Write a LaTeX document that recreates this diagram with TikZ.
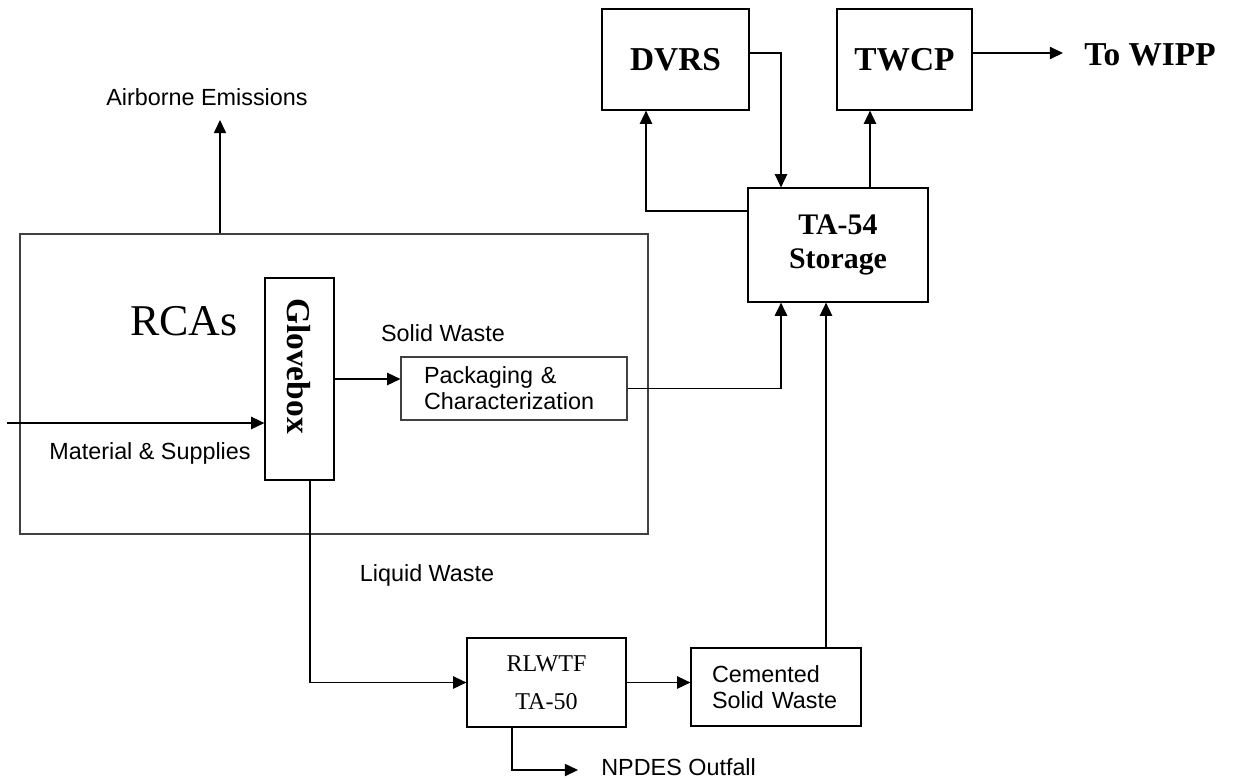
\documentclass[tikz,border=0pt]{standalone}
\usepackage{fontspec}
\setmainfont{Liberation Serif}
\newfontfamily\arialfont{Liberation Sans}
\usetikzlibrary{arrows.meta}
\tikzstyle{box} = [draw, line width=0.7pt, inner sep=0pt, align=center]
\tikzstyle{arrow} = [line width=0.7pt,-{Triangle[length=7.5pt,width=7pt]}]
\tikzstyle{lbl} = [font=\arialfont\fontsize{13.3}{14.7}\selectfont, inner sep=0pt]
\tikzstyle{title} = [font=\bfseries\fontsize{19}{22}\selectfont]

\begin{document}
\begin{tikzpicture}[x=0.02cm,y=-0.02cm]
	\useasboundingbox (0,0) rectangle (1233,778);
	% RCA area with glovebox
	\node[box, draw=black!75, minimum width=12.56cm, minimum height=6cm] (rca) at (334,384) {};
	\node[font=\fontsize{25}{30}\selectfont] (rcatext) at (184,321) {RCAs};
	\node[box, minimum width=1.38cm, minimum height=4.04cm] (glove) at (299.5,379) {};
	\node[title, rotate=-90] (glovetext) at (299,366) {Glovebox};
	\node[box, lbl, draw=black!75, minimum width=4.52cm, minimum height=1.26cm, text width=3.6cm, align=left] (pack) at (514,388.5) {Packaging \&\\Characterization};
	% storage and shipping
	\node[box, title, minimum width=2.94cm, minimum height=2.02cm] (dvrs) at (675.5,59.5) {DVRS};
	\node[box, title, minimum width=2.7cm, minimum height=2.02cm] (twcp) at (904.5,59.5) {TWCP};
	\node[box, font=\bfseries\fontsize{17}{19.8}\selectfont, minimum width=3.6cm, minimum height=2.28cm] (ta) at (838,245) {TA-54\\Storage};
	\node[title, anchor=west, inner sep=0pt] (wipp) at (1084,55) {To WIPP};
	% liquid path
	\node[box, font=\fontsize{13.7}{21.5}\selectfont, minimum width=3.18cm, minimum height=1.78cm] (rlwtf) at (546.5,682.5) {RLWTF\\TA-50};
	\node[box, lbl, minimum width=3.4cm, minimum height=1.56cm, text width=2.56cm, align=left] (cem) at (776,687) {Cemented\\Solid Waste};
	% labels
	\node[lbl] (air) at (207,97) {Airborne Emissions};
	\node[lbl] (mat) at (150,453) {Material \& Supplies};
	\node[lbl] (solid) at (443,333) {Solid Waste};
	\node[lbl] (liquid) at (427,575) {Liquid Waste};
	\node[lbl, anchor=west] (npdes) at (601,767) {NPDES Outfall};
	\coordinate (airin) at (220,120);
	\coordinate (matin) at (7,423);
	\coordinate (npdin) at (578,770);
	\coordinate (wippin) at (1063,53);
	% flows
	\draw[arrow] (rca.north -| airin) -- (airin);
	\draw[arrow] (matin) -- (matin -| glove.west);
	\draw[arrow] (glove.east |- 0,379) -- (pack.west |- 0,379);
	\draw[arrow, line width=1pt] (pack.east) -| (ta.south -| 781,0);
	\draw[arrow] (glove.south -| 310,0) |- (rlwtf.west);
	\draw[arrow] (rlwtf.east) -- (rlwtf.east -| cem.west);
	\draw[arrow] (rlwtf.south -| 512,0) |- (npdin);
	\draw[arrow] (cem.north -| 826,0) -- (ta.south -| 826,0);
	\draw[arrow] (ta.west |- 0,211) -| (dvrs.south -| 646,0);
	\draw[arrow] (dvrs.east |- 0,53) -| (ta.north -| 781,0);
	\draw[arrow] (ta.north -| 870,0) -- (twcp.south -| 870,0);
	\draw[arrow] (twcp.east |- wippin) -- (wippin);
\end{tikzpicture}
\end{document}
